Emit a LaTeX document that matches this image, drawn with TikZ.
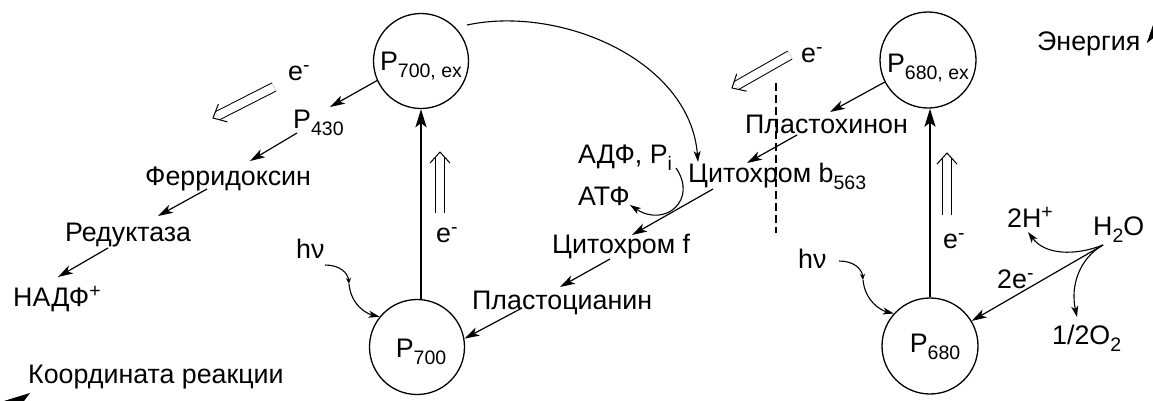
\documentclass[tikz,border=0pt]{standalone}
\usepackage{fontspec}
\setmainfont{Liberation Sans}
\usetikzlibrary{arrows.meta,calc}

% small lowered / raised indices
\newcommand\sbx[1]{\raisebox{-7pt}{\fontsize{19.5}{19.5}\selectfont #1}}
\newcommand\spx[1]{\raisebox{9pt}{\fontsize{19.5}{19.5}\selectfont #1}}

\begin{document}
\begin{tikzpicture}[x=1pt,y=-1pt,
  every node/.style={font=\fontsize{26.8}{30}\selectfont},
  lbl/.style={anchor=base west, inner sep=1pt},
  state/.style={circle, draw, line width=1.3pt, inner sep=0pt, text depth=0pt},
  flow/.style={line width=1.2pt, -{Stealth[length=15pt,width=9pt,inset=4pt]}},
  curvy/.style={line width=1.1pt, -{Stealth[length=11pt,width=7pt,inset=3pt]}},
  tickarr/.style={line width=1.1pt, -{Stealth[length=6pt,width=5pt,inset=2pt]}},
  lift/.style={line width=2pt, -{Stealth[length=18pt,width=11pt,inset=4pt]}},
  hollow/.style={double, double distance=8pt, line width=1pt, shorten >=5pt},
  chev/.style={line width=1pt},
  barrier/.style={line width=2pt, dash pattern=on 8pt off 4pt},
]
\useasboundingbox (0,0) rectangle (1153,400);

% reaction centres
\node[state, minimum size=95pt, text height=18pt] (p700ex) at (421,61) {P\sbx{700, ex}};
\node[state, minimum size=95pt, text height=21pt] (p700) at (417,347) {\hspace*{8pt}P\sbx{700}};
\node[state, minimum size=96pt, text height=24pt] (p680ex) at (928,60) {P\sbx{680, ex}};
\node[state, minimum size=96pt, text height=13pt] (p680) at (930,346) {\hspace*{10pt}P\sbx{680}};

% carriers and labels
\node[lbl] (eL) at (287,80) {e\spx{-}};
\node[lbl] (p430) at (292,128) {P\sbx{430}};
\node[lbl] (ferr) at (144,185) {Ферридоксин};
\node[lbl] (red) at (64,241) {Редуктаза};
\node[lbl] (nadp) at (12,306) {НАДФ\spx{+}};
\node[lbl] (coord) at (27,383) {Координата реакции};
\node[lbl] (hvL) at (295,258) {hν};
\node[lbl] (hvR) at (797,268) {hν};
\node[lbl] (pcy) at (471,309) {Пластоцианин};
\node[lbl] (cytf) at (551,253) {Цитохром f};
\node[lbl] (atp) at (577,205) {АТФ};
\node[lbl] (adp) at (577,163) {АДФ, P\sbx{i}};
\node[lbl] (cytb) at (687,182) {Цитохром b\sbx{563}};
\node[lbl] (pq) at (744,133) {Пластохинон};
\node[lbl] (eR) at (800,62) {e\spx{-}};
\node[lbl] (energy) at (1036,50) {Энергия};
\node[lbl] (h2o) at (1092,235) {H\sbx{2}O};
\node[lbl] (hplus) at (1006,227) {2H\spx{+}};
\node[lbl] (twoe) at (996,288) {2e\spx{-}};
\node[lbl] (oxy) at (1051,344) {1/2O\sbx{2}};
\node[lbl] (eV1) at (435,242) {e\spx{-}};
\node[lbl] (eV2) at (942,248) {e\spx{-}};

% photosystem I chain
\draw[flow] (p700ex.204) -- ($(p430.base west)+(38,-21)$);
\draw[flow] ($(p430.base west)+(5,5)$) -- ($(ferr.base west)+(106,-24)$);
\draw[flow] ($(ferr.base west)+(63,4)$) -- ($(red.base west)+(94,-25)$);
\draw[flow] ($(red.base west)+(44,7)$) -- ($(nadp.base west)+(46,-29)$);

% photosystem II chain
\draw[flow] (p680ex.207) -- ($(pq.base west)+(86,-21)$);
\draw[flow] ($(pq.base west)+(53,2)$) -- ($(cytb.base west)+(60,-19)$);
\draw[flow] ($(cytb.base west)+(26,7)$) -- ($(cytf.base west)+(81,-18)$);
\draw[flow] ($(cytf.base west)+(59,6)$) -- ($(pcy.base west)+(89,-22)$);
\draw[flow] ($(pcy.base west)+(51,-1)$) -- (p700.10);

% excitation
\draw[lift] (p700ex.south |- p700.north) -- (p700ex.south);
\draw[lift] (p680.north) -- (p680.north |- p680ex.south);

% cyclic return and phosphorylation
\draw[curvy] ($(p700ex.center)+(46,-36)$) .. controls +(93,-20) and +(-8,-102) .. ($(cytb.base west)+(11,-20)$);
\draw[curvy] ($(adp.base west)+(99,5)$) .. controls +(22,32) and +(35,23) .. ($(atp.base west)+(53,0)$);

% light quanta
\draw[tickarr] ($(hvL.base west)+(30,7)$) .. controls +(15,0) and +(-1,-11) .. ++(24,19) coordinate (hvLm);
\draw[curvy] (hvLm) .. controls +(2,21) and +(-13,-3) .. (p700.141);
\draw[tickarr] ($(hvR.base west)+(42,-7)$) .. controls +(15,0) and +(-1,-11) .. ++(24,19) coordinate (hvRm);
\draw[curvy] (hvRm) .. controls +(2,21) and +(-13,-3) .. (p680.138);

% water splitting
\coordinate (wsrc) at ($(h2o.base west)+(11,10)$);
\draw[curvy] (wsrc) .. controls +(-28,11) and +(17,23) .. ($(hplus.base west)+(22,5)$);
\draw[curvy] (wsrc) .. controls +(-23,13) and +(-7,-32) .. ($(oxy.base west)+(26,-27)$);
\draw[flow] (wsrc) -- (p680.31);

% electron transfer directions (hollow arrows)
\foreach \s/\t in {{274,87}/{213,118}, {790,55}/{732,88}, {440,213}/{440,152}, {947,215}/{947,153}} {
  \draw[hollow] (\s) -- (\t);
  \draw[chev] ($(\t)!15pt!42:(\s)$) -- (\t) -- ($(\t)!15pt!-42:(\s)$);
}

% membrane boundary
\draw[barrier] (776,83) -- (776,233);

% axes
\draw[line width=1pt, -{Stealth[length=19pt,width=13pt,inset=5pt]}] (1153.3,400) -- (1153.3,24);
\draw[line width=1pt, -{Stealth[length=26pt,width=16pt,inset=6pt]}] (1153,401) -- (4,401);
\end{tikzpicture}
\end{document}
